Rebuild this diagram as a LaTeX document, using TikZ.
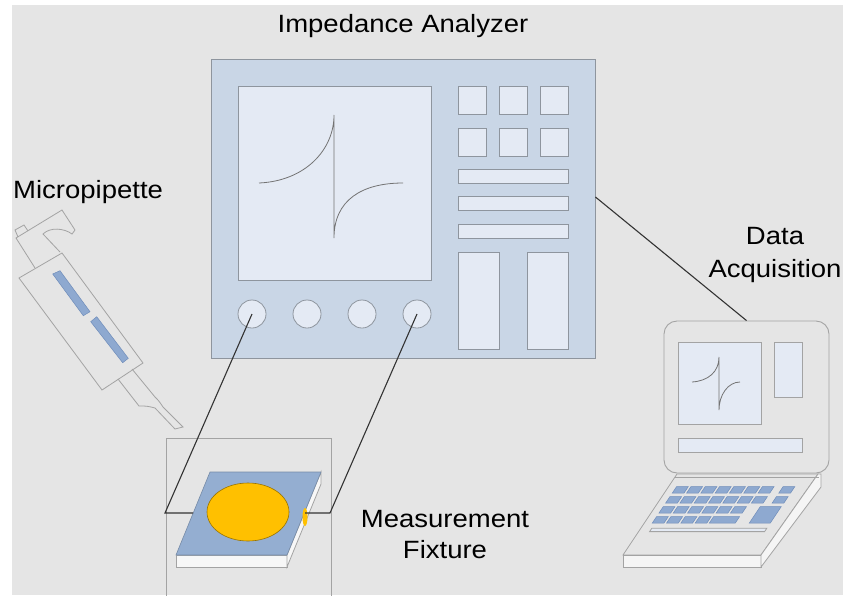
\documentclass[tikz,border=0pt]{standalone}
\usepackage{fontspec}
\setmainfont{Liberation Sans}[FakeStretch=1.1]
\usepackage{tikz}
\usetikzlibrary{shapes.geometric}

\definecolor{bggray}{HTML}{E5E5E5}
\definecolor{panfill}{HTML}{C9D6E6}
\definecolor{panedge}{HTML}{8E959E}
\definecolor{lcdfill}{HTML}{E4EAF4}
\definecolor{outl}{HTML}{A3A3A3}
\definecolor{keyblue}{HTML}{8EA9D0}
\definecolor{keyedge}{HTML}{6F8DBA}
\definecolor{platebl}{HTML}{94AED1}
\definecolor{goldpad}{HTML}{FFC000}

\tikzset{
	lbl/.style={inner sep=0pt, font=\fontsize{25}{33}\selectfont, text=black},
	sz/.style 2 args={minimum width=#1pt, minimum height=#2pt},
	panel/.style={rectangle, draw=panedge, fill=panfill, line width=0.9pt, inner sep=0pt},
	lcd/.style={rectangle, draw=panedge, fill=lcdfill, line width=0.8pt, inner sep=0pt},
	knob/.style={circle, draw=panedge, fill=lcdfill, line width=0.8pt, inner sep=0pt, minimum size=28pt},
	trace/.style={draw=black!55, line width=0.8pt},
	gline/.style={draw=outl, line width=0.8pt},
	key/.style={fill=keyblue, draw=keyedge, line width=0.5pt},
	wire/.style={draw=black!80, line width=1.1pt},
}

\begin{document}
\begin{tikzpicture}[x=1pt, y=-1pt]
	\useasboundingbox (0,0) rectangle (843,595);
	\clip (0,0) rectangle (843,595);
	\fill[bggray] (12,5) rectangle (843,595);

	% analyzer front panel
	\node[panel, sz={384}{299}] (ana) at (403,208.5) {};
	\node[lcd, sz={193}{194}] (scr) at (334.5,183) {};
	\draw[trace] (259,183) .. controls (305,181) and (334,150) .. (334,115) -- (334,238)
		.. controls (334,200) and (362,183) .. (403,183);
	\foreach \x in {472,513,554}
		\foreach \y in {100,142}
			\node[lcd, sz={28}{28}] (btn-\x-\y) at (\x,\y) {};
	\foreach \y [count=\i] in {176,203,231}
		\node[lcd, sz={110}{14}] (bar\i) at (513,\y) {};
	\node[lcd, sz={41}{97}] (sl1) at (478.5,300.5) {};
	\node[lcd, sz={41}{97}] (sl2) at (547.5,300.5) {};
	\foreach \x [count=\i] in {252,307,362,417}
		\node[knob] (k\i) at (\x,314) {};
	\node[lbl, anchor=base] (tana) at (403,32) {Impedance Analyzer};

	% pipette
	\draw[gline] (35,268) -- (16,238) -- (62,210) -- (75,230) -- (72,234)
		.. controls (64,228) and (50,227) .. (43,234) -- (60,252);
	\draw[gline] (18,237) -- (15,230) -- (24,225) -- (28,231);
	\draw[gline] (19,278) -- (62,253) -- (143,363) -- (102,390) -- cycle;
	\draw[key] (52.7,274) -- (60,270.7) -- (90,311.7) -- (83.3,315.7) -- cycle;
	\draw[key] (90.7,321.7) -- (96.7,316.7) -- (128.3,358.3) -- (122.7,362.7) -- cycle;
	\draw[gline] (118,379) -- (139,406) .. controls (147,406) .. (155,408) -- (175,429) -- (183,427)
		-- (163,407) .. controls (159,401) .. (155,397) -- (132,369);
	\node[lbl, anchor=base west] (tpip) at (13,198) {Micropipette};

	% fixture with sample plate
	\draw[gline] (166,438) rectangle (331,620);
	\draw[gline, fill=white!70!bggray] (176,555) rectangle (287,567);
	\draw[gline, fill=white!70!bggray] (287,555) -- (321,472) -- (321,484) -- (287,567) -- cycle;
	\draw[draw=platebl!80!black, fill=platebl, line width=0.6pt] (210,472) -- (321,472) -- (287,555) -- (176,555) -- cycle;
	\node[ellipse, draw=goldpad!60!black, fill=goldpad, line width=0.6pt, inner sep=0pt, sz={82}{58}] (pad) at (248,512) {};
	\fill[goldpad] (305,517) ellipse [x radius=2.5, y radius=9];
	\node[lbl, align=center, anchor=base, font=\fontsize{25}{31}\selectfont] (tfix) at (445,558) {Measurement\\Fixture};

	% laptop
	\node[rectangle, rounded corners=13pt, draw=outl, line width=0.9pt, sz={165}{152}] (lcase) at (746.5,397) {};
	\node[lcd, draw=outl, sz={83}{82}] (lscr) at (719.5,383) {};
	\node[lcd, draw=outl, sz={28}{55}] (lside) at (788,369.5) {};
	\node[lcd, draw=outl, sz={124}{14}] (lbar) at (740,445) {};
	\draw[trace] (692,382) .. controls (708,381) and (719,372) .. (719,357) -- (719,410)
		.. controls (719,395) and (728,382) .. (740,382);
	\draw[gline, fill=bggray] (677,474) -- (818,474) -- (761,555) -- (623,555) -- cycle;
	\draw[gline, fill=white!60!bggray] (623,555) rectangle (761,567);
	\draw[gline, fill=white!60!bggray] (761,555) -- (818,474) -- (821,474) -- (821,487) -- (761,567) -- cycle;
	\draw[gline] (675,477) -- (819,477);
	\begin{scope}[shift={(0,474)}, xslant=0.667]
		\foreach \b in {12.5,22.5} {
			\foreach \k in {0,...,6}
				\draw[key] (685+\k*14.3,\b) rectangle ++(11.7,6.7);
			\draw[key] (791.5,\b) rectangle ++(11.7,6.7);
		}
		\foreach \k in {0,...,5}
			\draw[key] (685+\k*14.3,32.5) rectangle ++(11.7,6.7);
		\foreach \k in {0,...,3}
			\draw[key] (685+\k*14.3,42.5) rectangle ++(11.7,6.7);
		\draw[key] (782,32.5) rectangle (803,49.2);
		\draw[key] (742,42.5) rectangle (768,49.2);
		\draw[gline, fill=lcdfill] (688,54.3) rectangle (803,57.6);
	\end{scope}
	\node[lbl, align=center, anchor=base] (tdaq) at (775,277) {Data\\Acquisition};

	% leads
	\coordinate (fl) at (165,513);
	\coordinate (pl) at (193,513);
	\coordinate (fr) at (330,513);
	\coordinate (pr) at (305,513);
	\draw[wire] (k1.center) -- (fl) -- (pl);
	\draw[wire] (k4.center) -- (fr) -- (pr);
	\draw[wire] ([yshift=11.5pt]ana.east) -- (lcase.north);
\end{tikzpicture}
\end{document}
